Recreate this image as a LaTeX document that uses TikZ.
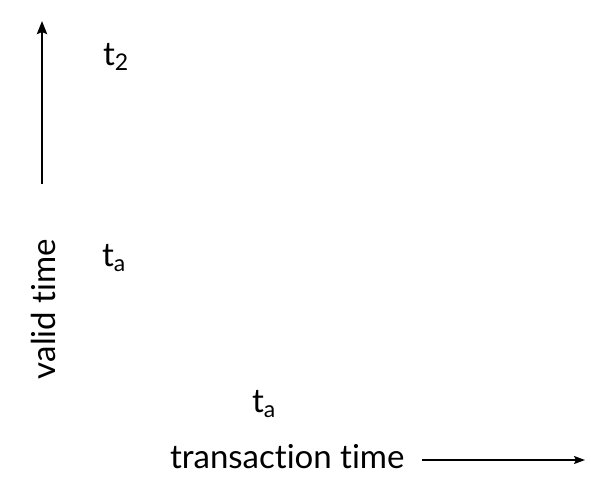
\documentclass[tikz,border=0pt]{standalone}
\usepackage{fontspec}
\setmainfont[Ligatures={NoCommon,NoRequired,NoContextual}]{Lato}
\usetikzlibrary{arrows.meta}
\tikzset{
  lbl/.style={inner sep=0pt, outer sep=0pt, font=\fontsize{33}{36}\selectfont},
  axlbl/.style={inner sep=0pt, outer sep=0pt, font=\fontsize{33}{36}\selectfont},
  axis/.style={line width=2.6pt, -{Stealth[length=13pt,width=10pt,inset=2pt]}},
  haxis/.style={line width=1.6pt, -{Stealth[length=11pt,width=8pt,inset=2pt]}}
}
\newcommand{\subt}[1]{t\raisebox{-0.18em}{\fontsize{23}{23}\selectfont #1}}
\begin{document}
\begin{tikzpicture}[x=1pt,y=-1pt]
\useasboundingbox (0,0) rectangle (591,498);
\coordinate (vb) at (42,184);
\coordinate (vt) at (42,21);
\draw[axis] (vb) -- (vt);
\node[lbl, anchor=base west] (t2) at (103,65) {\subt{2}};
\node[lbl, anchor=base west] (tav) at (102,266) {\subt{a}};
\node[axlbl, anchor=base west, rotate=90] (vtl) at (55,379) {valid time};
\node[lbl, anchor=base west] (tat) at (252,412) {\subt{a}};
\node[axlbl, anchor=base west] (tt) at (170,468) {transaction time};
\coordinate (hs) at (422,460);
\coordinate (he) at (585,460);
\draw[haxis] (hs) -- (he);
\end{tikzpicture}
\end{document}
